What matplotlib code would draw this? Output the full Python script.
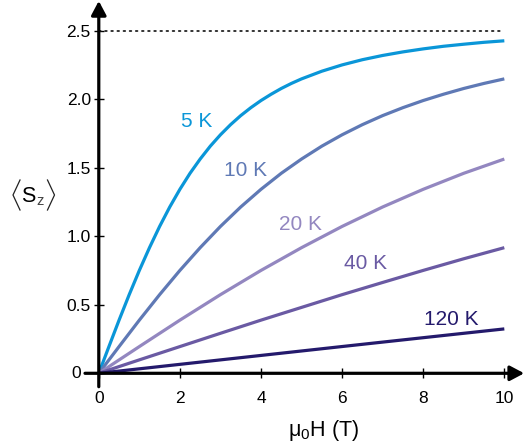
import matplotlib
matplotlib.use("Agg")
import matplotlib.pyplot as plt
from matplotlib.lines import Line2D

plt.rcParams['font.family'] = ['Liberation Sans', 'DejaVu Sans']
plt.rcParams['mathtext.fontset'] = 'custom'
plt.rcParams['mathtext.rm'] = 'Liberation Sans'
plt.rcParams['mathtext.it'] = 'Liberation Sans'
plt.rcParams['mathtext.default'] = 'regular'

# Field (T) and mean spin projection <Sz> for each temperature
h_5K = [0, 0.25, 0.5, 0.75, 1, 1.25, 1.5, 1.75, 2, 2.25, 2.5, 2.75, 3, 3.25, 3.5,
        3.75, 4, 4.25, 4.5, 4.75, 5, 5.5, 6, 6.5, 7, 7.5, 8, 8.5, 9, 9.5, 10]
s_5K = [0, 0.195, 0.388, 0.574, 0.751, 0.917, 1.072, 1.214, 1.343, 1.460, 1.564,
        1.658, 1.741, 1.815, 1.881, 1.939, 1.991, 2.037, 2.079, 2.116, 2.149,
        2.205, 2.251, 2.289, 2.320, 2.346, 2.368, 2.387, 2.402, 2.416, 2.427]

h_10K = [0, 0.5, 1, 1.5, 2, 2.5, 3, 3.5, 4, 4.5, 5, 5.5, 6, 6.5, 7, 7.5, 8, 8.5,
         9, 9.5, 10]
s_10K = [0, 0.195, 0.388, 0.574, 0.751, 0.917, 1.072, 1.214, 1.343, 1.460, 1.564,
         1.658, 1.741, 1.815, 1.881, 1.939, 1.991, 2.037, 2.079, 2.116, 2.149]

h_coarse = [0, 1, 2, 3, 4, 5, 6, 7, 8, 9, 10]
s_20K = [0, 0.195, 0.388, 0.574, 0.751, 0.917, 1.072, 1.214, 1.343, 1.460, 1.564]
s_40K = [0, 0.098, 0.195, 0.292, 0.388, 0.481, 0.574, 0.663, 0.751, 0.836, 0.917]
s_120K = [0, 0.0327, 0.0653, 0.0979, 0.1304, 0.1629, 0.1954, 0.2277, 0.2599,
          0.2920, 0.3240]

saturation = 2.5

labels = ['5 K', '10 K', '20 K', '40 K', '120 K']
colors = ['#0a96d8', '#5f79b5', '#9387c0', '#6a5aa3', '#241a6c']
label_xy = [(2.414, 1.796), (3.625, 1.440), (4.962, 1.046), (6.572, 0.759),
            (8.681, 0.353)]

xticks = [0, 2, 4, 6, 8, 10]
yticks = [0.5, 1.0, 1.5, 2.0, 2.5]

fig = plt.figure(figsize=(5.25, 4.46), dpi=100)
ax = fig.add_axes([0, 0, 1, 1])
ax.set_xlim(-2.436, 10.51)
ax.set_ylim(-0.5307, 2.7248)
ax.patch.set_visible(False)

for side in ['top', 'right', 'left', 'bottom']:
    ax.spines[side].set_visible(False)
ax.spines['left'].set_position(('data', 0))
ax.spines['bottom'].set_position(('data', 0))

# saturation level
ax.plot([0, 10], [saturation, saturation], color='#222222', lw=1.3,
        linestyle=(0, (0.9, 2.5)), dash_capstyle='round')

series = [(h_5K, s_5K), (h_10K, s_10K), (h_coarse, s_20K), (h_coarse, s_40K),
          (h_coarse, s_120K)]
for (h, s), c in zip(series, colors):
    ax.plot(h, s, color=c, lw=2.3, solid_capstyle='butt', solid_joinstyle='round')

for lab, c, (x, y) in zip(labels, colors, label_xy):
    ax.text(x, y, lab, color=c, fontsize=15, ha='center', va='baseline')

# axes with arrowheads
arrow = dict(arrowstyle='-|>,head_length=0.85,head_width=0.45', lw=2.3,
             color='black', shrinkA=0, shrinkB=0)
ax.annotate('', xy=(10.49, 0), xytext=(-0.34, 0), arrowprops=arrow,
            annotation_clip=False)
ax.annotate('', xy=(0, 2.718), xytext=(0, -0.098), arrowprops=arrow,
            annotation_clip=False)

ax.set_xticks(xticks)
ax.set_xticklabels([str(v) for v in xticks])
ax.set_yticks(yticks)
ax.set_yticklabels([f'{v:.1f}' for v in yticks])
ax.tick_params(axis='both', direction='inout', length=7.5, width=1.0,
               labelsize=12.5, color='black')
ax.tick_params(axis='x', pad=9)
ax.tick_params(axis='y', pad=2)
ax.text(-0.45, 0, '0', fontsize=12.5, ha='right', va='center')

# axis titles
ax.text(5.55, -0.458, r'$\mu_0$H (T)', fontsize=15.5, ha='center', va='baseline')

W, H = 525, 446
def px(x, y):
    return (x / W, 1 - y / H)

for pts in [[(20, 180), (13, 195), (20, 210)], [(47.5, 180), (54.5, 195), (47.5, 210)]]:
    xs, ys = zip(*[px(*p) for p in pts])
    fig.add_artist(Line2D(xs, ys, color='#222222', lw=0.9, transform=fig.transFigure))
fig.text(*px(21, 201.7), 'S', fontsize=15.5, ha='left', va='baseline')
fig.text(*px(36.5, 205), 'z', fontsize=10.5, ha='left', va='baseline', color='#444444')

fig.savefig('out.png', dpi=100)
